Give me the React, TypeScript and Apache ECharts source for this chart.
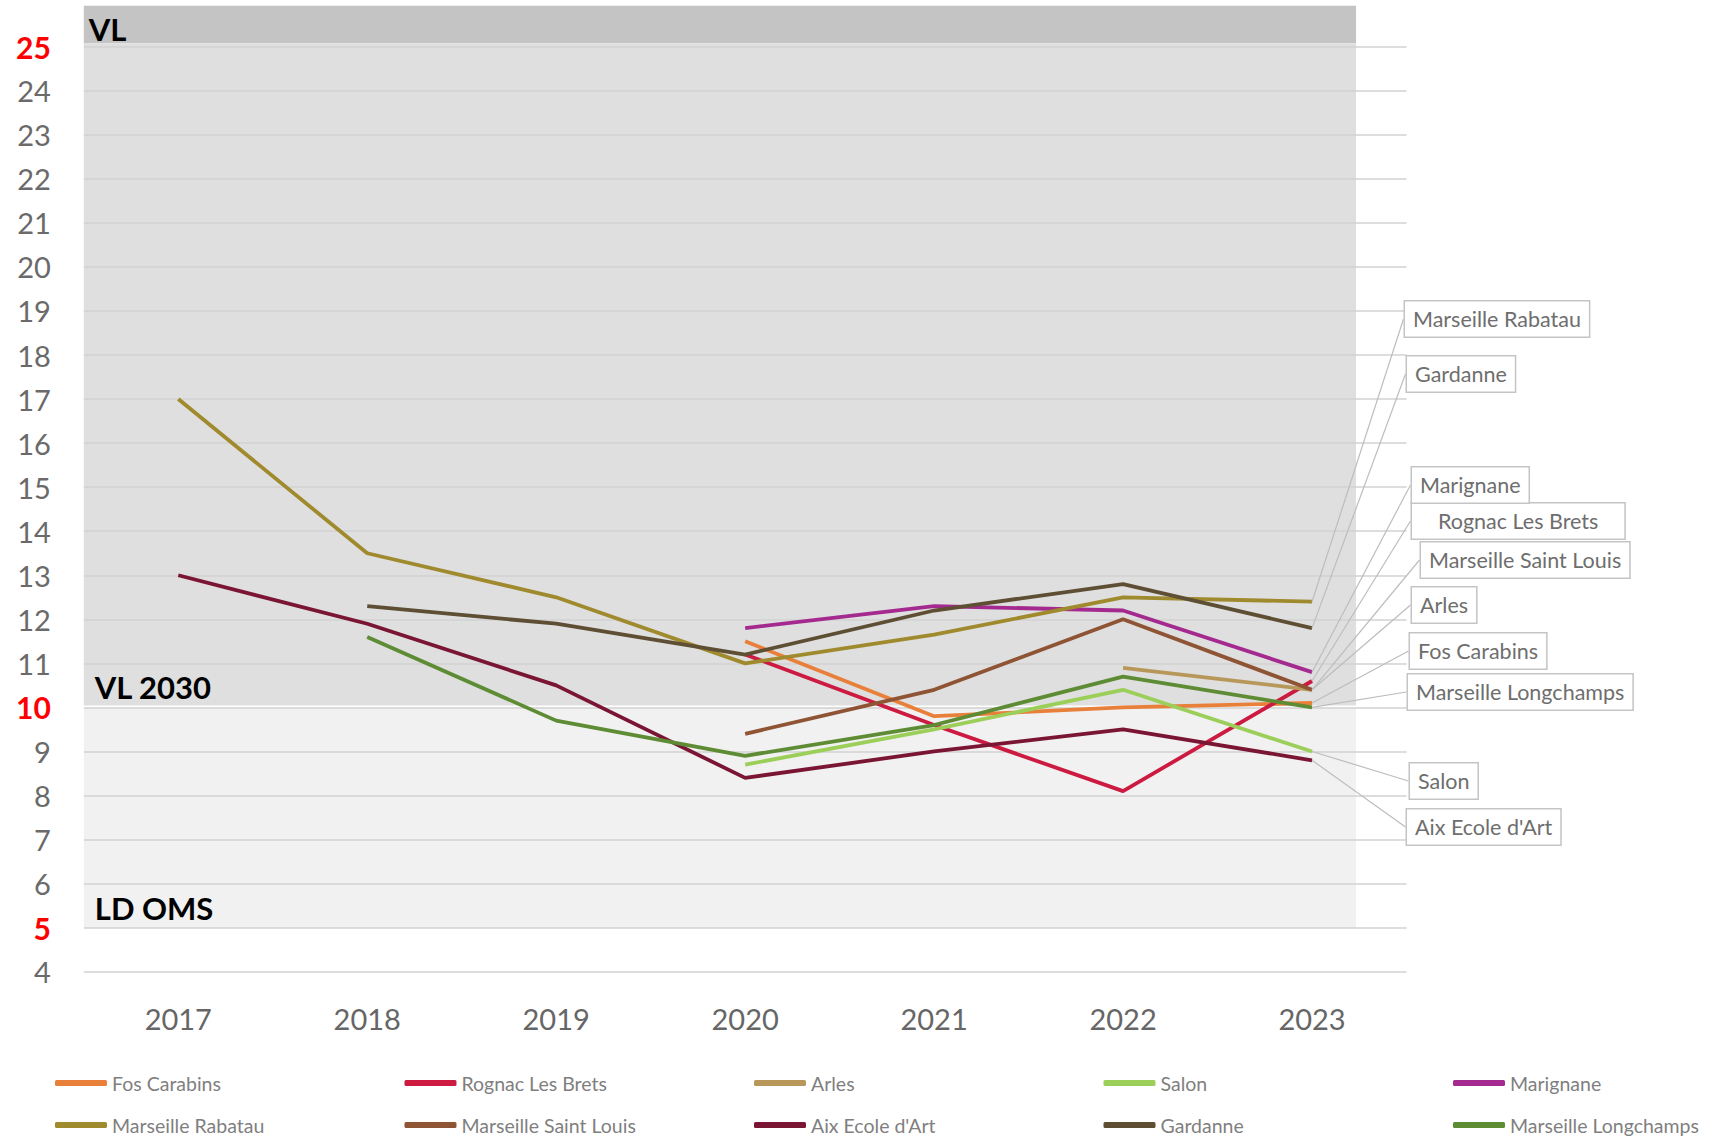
import React, { useEffect, useRef } from 'react';
import * as echarts from 'echarts';

const years = ['2017', '2018', '2019', '2020', '2021', '2022', '2023'];
const yTickMin = 4;
const yTickMax = 25;
const thresholdVL = 25;
const thresholdVL2030 = 10;
const thresholdOMS = 5;
const redTicks = [25, 10, 5];

const fosCarabins = [null, null, null, 11.5, 9.8, 10.0, 10.1];
const rognacLesBrets = [null, null, null, 11.2, 9.6, 8.1, 10.6];
const arles = [null, null, null, null, null, 10.9, 10.4];
const salon = [null, null, null, 8.7, 9.5, 10.4, 9.0];
const marignane = [null, null, null, 11.8, 12.3, 12.2, 10.8];
const marseilleRabatau = [17.0, 13.5, 12.5, 11.0, 11.65, 12.5, 12.4];
const marseilleSaintLouis = [null, null, null, 9.4, 10.4, 12.0, 10.4];
const aixEcoleDArt = [13.0, 11.9, 10.5, 8.4, 9.0, 9.5, 8.8];
const gardanne = [null, 12.3, 11.9, 11.2, 12.2, 12.8, 11.8];
const marseilleLongchamps = [null, 11.6, 9.7, 8.9, 9.6, 10.7, 10.0];

const seriesDefs = [
  { name: 'Fos Carabins', data: fosCarabins, color: '#e8803a' },
  { name: 'Rognac Les Brets', data: rognacLesBrets, color: '#cc1a40' },
  { name: 'Arles', data: arles, color: '#b8985a' },
  { name: 'Salon', data: salon, color: '#9ccf5a' },
  { name: 'Marignane', data: marignane, color: '#a52a8f' },
  { name: 'Marseille Rabatau', data: marseilleRabatau, color: '#a08a2e' },
  { name: 'Marseille Saint Louis', data: marseilleSaintLouis, color: '#8e5434' },
  { name: "Aix Ecole d'Art", data: aixEcoleDArt, color: '#7a1634' },
  { name: 'Gardanne', data: gardanne, color: '#5e4e34' },
  { name: 'Marseille Longchamps', data: marseilleLongchamps, color: '#5e8c34' },
];

// label box placement (pixels) for the end-of-line callouts
const calloutLayout: Record<string, { x: number; y: number; padX?: number }> = {
  'Marseille Rabatau': { x: 1405, y: 319 },
  Gardanne: { x: 1407, y: 374 },
  Marignane: { x: 1412, y: 485 },
  'Rognac Les Brets': { x: 1412, y: 521, padX: 26 },
  'Marseille Saint Louis': { x: 1421, y: 560 },
  Arles: { x: 1412, y: 605 },
  'Fos Carabins': { x: 1410, y: 651 },
  'Marseille Longchamps': { x: 1408, y: 692 },
  Salon: { x: 1410, y: 781 },
  "Aix Ecole d'Art": { x: 1407, y: 827 },
};

const legendColumns = [
  ['Fos Carabins', 'Marseille Rabatau'],
  ['Rognac Les Brets', 'Marseille Saint Louis'],
  ['Arles', "Aix Ecole d'Art"],
  ['Salon', 'Gardanne'],
  ['Marignane', 'Marseille Longchamps'],
];

const FONT = 'Lato, "Noto Sans", sans-serif';

export default function App() {
  const ref = useRef<HTMLDivElement>(null);

  useEffect(() => {
    if (!ref.current) return;
    const chart = echarts.init(ref.current, null, { renderer: 'svg' });

    const series = seriesDefs.map((s) => {
      const last = s.data.length - 1;
      const lay = calloutLayout[s.name];
      const padX = lay.padX ?? 8;
      return {
        name: s.name,
        type: 'line',
        data: s.data.map((v, i) =>
          i === last
            ? {
                value: v,
                label: {
                  show: true,
                  formatter: s.name,
                  color: '#6e6e6e',
                  fontSize: 21.5,
                  fontFamily: FONT,
                  backgroundColor: '#ffffff',
                  borderColor: '#c4c4c4',
                  borderWidth: 1.5,
                  padding: [7, padX, 6, padX],
                },
                labelLine: {
                  show: true,
                  length2: 8,
                  lineStyle: { color: '#bdbdbd', width: 1.2 },
                },
              }
            : v
        ),
        color: s.color,
        lineStyle: { width: 3.8, color: s.color },
        itemStyle: { color: s.color },
        showSymbol: true,
        showAllSymbol: true,
        symbol: 'circle',
        symbolSize: 0,
        connectNulls: false,
        silent: true,
        labelLayout: {
          x: lay.x,
          y: lay.y,
          align: 'left',
          verticalAlign: 'middle',
          hideOverlap: false,
          moveOverlap: false,
        },
        z: 3,
      };
    });

    const legends = legendColumns.map((col, i) => ({
      left: 55 + i * 349.5,
      top: 1071,
      height: 66,
      padding: 0,
      orient: 'vertical',
      itemWidth: 52,
      itemHeight: 6,
      itemGap: 18,
      icon: 'roundRect',
      selectedMode: false,
      data: col,
      textStyle: {
        fontSize: 19.5,
        lineHeight: 24,
        fontFamily: FONT,
        color: '#7f7f7f',
      },
    }));

    const option: any = {
      animation: false,
      backgroundColor: '#ffffff',
      grid: { left: 83.8, right: 319.5, top: 46.7, bottom: 165.3, containLabel: false },
      xAxis: {
        type: 'category',
        data: years,
        boundaryGap: true,
        axisLine: { show: false },
        axisTick: { show: false },
        axisLabel: { fontSize: 29, color: '#666666', fontFamily: FONT, margin: 32 },
      },
      yAxis: {
        type: 'value',
        min: yTickMin,
        max: yTickMax,
        interval: 1,
        axisLine: { show: false },
        axisTick: { show: false },
        splitLine: { show: true, lineStyle: { color: '#d2d2d2', width: 1.6 } },
        axisLabel: {
          fontSize: 29,
          color: '#6a6a6a',
          fontFamily: FONT,
          margin: 33,
          formatter: (v: number) => (redTicks.includes(v) ? `{r|${v}}` : `${v}`),
          rich: {
            r: { color: '#ff0000', fontWeight: 'bold', fontSize: 30, fontFamily: FONT },
          },
        },
      },
      legend: legends,
      series,
    };

    chart.setOption(option);

    const yPx = (v: number) => chart.convertToPixel({ yAxisIndex: 0 }, v) as number;
    const xPx = (i: number) => chart.convertToPixel({ xAxisIndex: 0 }, i) as number;
    const x0 = xPx(0);
    const x1 = xPx(1);
    const band = x1 - x0;
    const left = x0 - band / 2;
    const right = xPx(years.length - 1) + band * 0.233;
    const yVL = yPx(thresholdVL);
    const y2030 = yPx(thresholdVL2030);
    const yOMS = yPx(thresholdOMS);

    const textStyle = (text: string) => ({
      text,
      fill: '#000000',
      font: `bold 31px ${FONT}`,
      textVerticalAlign: 'bottom',
      verticalAlign: 'bottom',
    });

    chart.setOption({
      graphic: [
        {
          type: 'rect',
          z: -10,
          silent: true,
          shape: { x: left, y: yVL - 41, width: right - left, height: 37.5 },
          style: { fill: '#c4c4c4' },
        },
        {
          type: 'rect',
          z: -10,
          silent: true,
          shape: { x: left, y: yVL - 3.5, width: right - left, height: y2030 - 2 - (yVL - 3.5) },
          style: { fill: '#dfdfdf' },
        },
        {
          type: 'rect',
          z: -10,
          silent: true,
          shape: { x: left, y: y2030, width: right - left, height: yOMS - y2030 },
          style: { fill: '#f1f1f1' },
        },
        { type: 'text', z: 5, silent: true, x: left + 5, y: yVL - 2, style: textStyle('VL') },
        { type: 'text', z: 5, silent: true, x: left + 11, y: y2030 - 5, style: textStyle('VL 2030') },
        { type: 'text', z: 5, silent: true, x: left + 11, y: yOMS - 4, style: textStyle('LD OMS') },
      ],
    });

    return () => chart.dispose();
  }, []);

  return (
    <div
      ref={ref}
      style={{ position: 'absolute', left: 0, top: 0, width: 1726, height: 1137 }}
    />
  );
}
